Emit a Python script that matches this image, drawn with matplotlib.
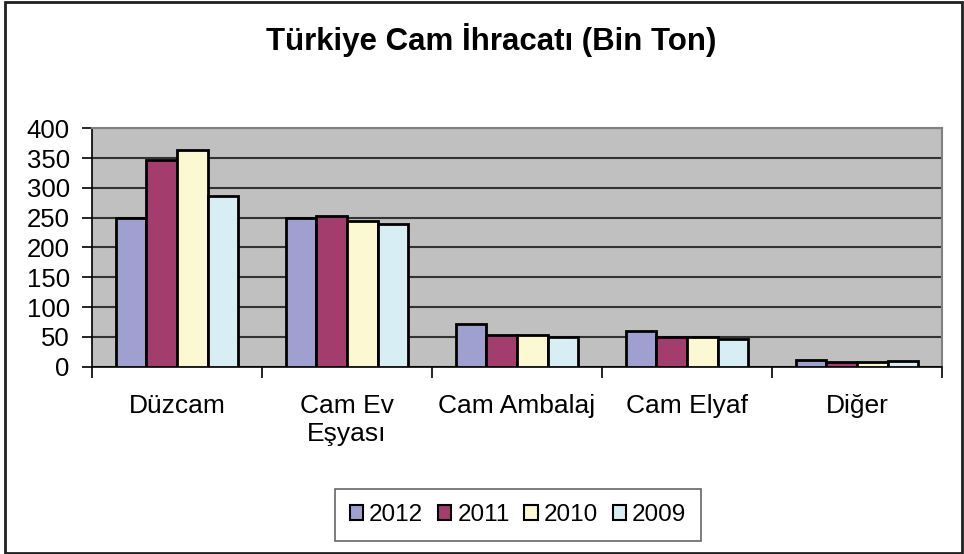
import matplotlib
matplotlib.use("Agg")
import matplotlib.pyplot as plt
import numpy as np
from matplotlib.patches import Rectangle

categories = ["Düzcam", "Cam Ev\nEşyası", "Cam Ambalaj", "Cam Elyaf", "Diğer"]
years = ["2012", "2011", "2010", "2009"]
v2012 = [250, 250, 71, 60, 12]
v2011 = [347, 253, 53, 50, 8]
v2010 = [364, 244, 53, 50, 8]
v2009 = [287, 239, 50, 47, 9]
series = [v2012, v2011, v2010, v2009]
colors = ["#A0A0D0", "#A33D6E", "#FCF8D2", "#D7EEF5"]
yticks = [0, 50, 100, 150, 200, 250, 300, 350, 400]

plt.rcParams['font.family'] = ['Liberation Sans', 'DejaVu Sans']

W, H = 964, 554
fig = plt.figure(figsize=(W/100, H/100), dpi=100)
ax = fig.add_axes([92/W, 1-366.7/H, (942-92)/W, (366.7-128.3)/H])
ax.set_facecolor("#C0C0C0")

n = len(categories)
x = np.arange(n)
bw = 0.18
for i, (vals, c, y) in enumerate(zip(series, colors, years)):
    ax.bar(x + (i - 1.5) * bw, vals, width=bw, color=c, edgecolor="black",
           linewidth=2, label=y, zorder=3)

ax.set_xlim(-0.5, n - 0.5)
ax.set_ylim(0, 400)
ax.set_yticks(yticks)
ax.set_yticklabels([str(t) for t in yticks], fontsize=18.5)
ax.yaxis.grid(True, color="#333333", linewidth=1.5, zorder=1)
ax.set_axisbelow(True)

ax.set_xticks(x)
ax.set_xticklabels(categories, fontsize=19, linespacing=1.2)
ax.tick_params(axis='x', length=0, pad=20)
ax.set_xticks(np.arange(n + 1) - 0.5, minor=True)
ax.tick_params(axis='x', which='minor', length=8, width=1.2, direction='out', color='black')
ax.tick_params(axis='y', length=7, width=1.2, direction='out', pad=9)

for s in ['top', 'right']:
    ax.spines[s].set_color("#808080")
    ax.spines[s].set_linewidth(1.5)
for s in ['left', 'bottom']:
    ax.spines[s].set_color("black")
    ax.spines[s].set_linewidth(1.2)

fig.text(491/W, 1-40/H, "Türkiye Cam İhracatı (Bin Ton)", ha='center', va='center',
         fontsize=22.5, fontweight='bold')

leg = ax.legend(loc='center', bbox_to_anchor=(518/W, 1-515/H), bbox_transform=fig.transFigure,
                ncol=4, fontsize=17.5, frameon=True, fancybox=False, edgecolor="#404040",
                handlelength=0.55, handleheight=0.55, handletextpad=0.25, columnspacing=0.6,
                borderpad=0.6)
leg.get_frame().set_linewidth(1.2)
for h in leg.legend_handles:
    h.set_linewidth(1.5)

# outer border
fig.patches.append(Rectangle((5/W, 1-553/H), (962-5)/W, (553-2)/H, transform=fig.transFigure,
                             fill=False, edgecolor="#202020", linewidth=2))

fig.savefig("out.png", dpi=100)
